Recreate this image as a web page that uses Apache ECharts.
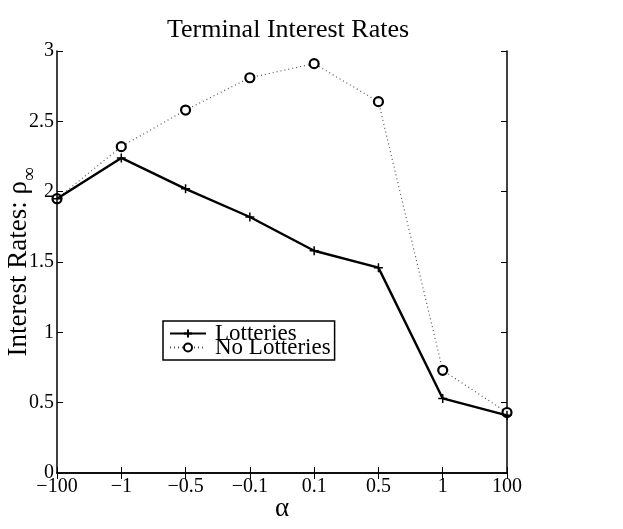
<!DOCTYPE html>
<html><head><meta charset="utf-8">
<script src="https://cdn.jsdelivr.net/npm/echarts@6/dist/echarts.min.js"></script>
<style>html,body{margin:0;padding:0;background:#fff}#c{width:623px;height:529px}</style>
</head><body><div id="c"></div>
<script>
const categories = ['\u2212100', '\u22121', '\u22120.5', '\u22120.1', '0.1', '0.5', '1', '100'];
const lotteries = [1.95, 2.24, 2.02, 1.82, 1.58, 1.46, 0.53, 0.41];
const noLotteries = [1.95, 2.32, 2.58, 2.81, 2.91, 2.64, 0.73, 0.43];
const yTicks = [0, 0.5, 1, 1.5, 2, 2.5, 3];

const font = 'Liberation Serif';
const chart = echarts.init(document.getElementById('c'));
const plus = 'path://M0,5L10,5M5,0L5,10';
const axisBase = {
  axisLine: {show: true, lineStyle: {color: '#000', width: 1.5}},
  splitLine: {show: false}
};
chart.setOption({
  animation: false,
  backgroundColor: '#fff',
  title: {
    text: 'Terminal Interest Rates', left: 283, textAlign: 'center', top: 12,
    textStyle: {fontFamily: font, fontSize: 26, fontWeight: 'normal', color: '#000'}
  },
  grid: {left: 57, right: 116, top: 51, bottom: 56, outerBoundsMode: 'none', containLabel: false},
  legend: {
    orient: 'vertical', left: 163, top: 321,
    padding: [1, 4, 1, 6], itemGap: -9, itemWidth: 36, itemHeight: 10,
    borderColor: '#000', borderWidth: 1.5, backgroundColor: '#fff',
    textStyle: {fontFamily: font, fontSize: 23, color: '#000', padding: [0, 0, 0, 4]},
    data: ['Lotteries', 'No Lotteries']
  },
  xAxis: [
    Object.assign({}, axisBase, {
      type: 'category', data: categories, boundaryGap: false, position: 'bottom',
      axisTick: {show: true, inside: true, length: 6, lineStyle: {color: '#000'}},
      axisLabel: {fontFamily: font, fontSize: 20, color: '#000', margin: 4},
      name: '\u03b1', nameLocation: 'middle', nameGap: 22, nameMoveOverlap: false,
      nameTextStyle: {fontFamily: font, fontSize: 27, color: '#000', verticalAlign: 'top'}
    }),
    Object.assign({}, axisBase, {
      type: 'category', data: categories, boundaryGap: false, position: 'top',
      axisTick: {show: true, inside: true, length: 6, lineStyle: {color: '#000'}},
      axisLabel: {show: false}
    })
  ],
  yAxis: [
    Object.assign({}, axisBase, {
      type: 'value', min: 0, max: 3, interval: 0.5, position: 'left',
      axisTick: {show: true, inside: true, length: 6, lineStyle: {color: '#000'}},
      axisLabel: {fontFamily: font, fontSize: 20, color: '#000', margin: 3,
        formatter: v => yTicks.includes(v) ? String(v) : ''},
      name: '{a|Interest Rates: \u03c1}{s|\u221e}', nameLocation: 'middle', nameGap: 25, nameMoveOverlap: false,
      nameTextStyle: {fontFamily: font, fontSize: 27, color: '#000',
        rich: {a: {fontFamily: font, fontSize: 27, color: '#000'},
               s: {fontFamily: font, fontSize: 19, color: '#000', verticalAlign: 'bottom', padding: [0, 0, -8, 0]}}}
    }),
    Object.assign({}, axisBase, {
      type: 'value', min: 0, max: 3, interval: 0.5, position: 'right',
      axisTick: {show: true, inside: true, length: 6, lineStyle: {color: '#000'}},
      axisLabel: {show: false}
    })
  ],
  series: [
    {
      name: 'Lotteries', type: 'line', data: lotteries,
      lineStyle: {color: '#000', width: 2.4, type: 'solid'},
      symbol: plus, symbolSize: 9, showAllSymbol: true,
      itemStyle: {color: '#000', borderColor: '#000', borderWidth: 1.5},
      z: 3
    },
    {
      name: 'No Lotteries', type: 'line', data: noLotteries,
      lineStyle: {color: '#555', width: 1.2, type: [1, 3]},
      symbol: 'circle', symbolSize: 9, showAllSymbol: true,
      itemStyle: {color: '#fff', borderColor: '#000', borderWidth: 2.2},
      z: 2
    }
  ]
});
</script></body></html>
